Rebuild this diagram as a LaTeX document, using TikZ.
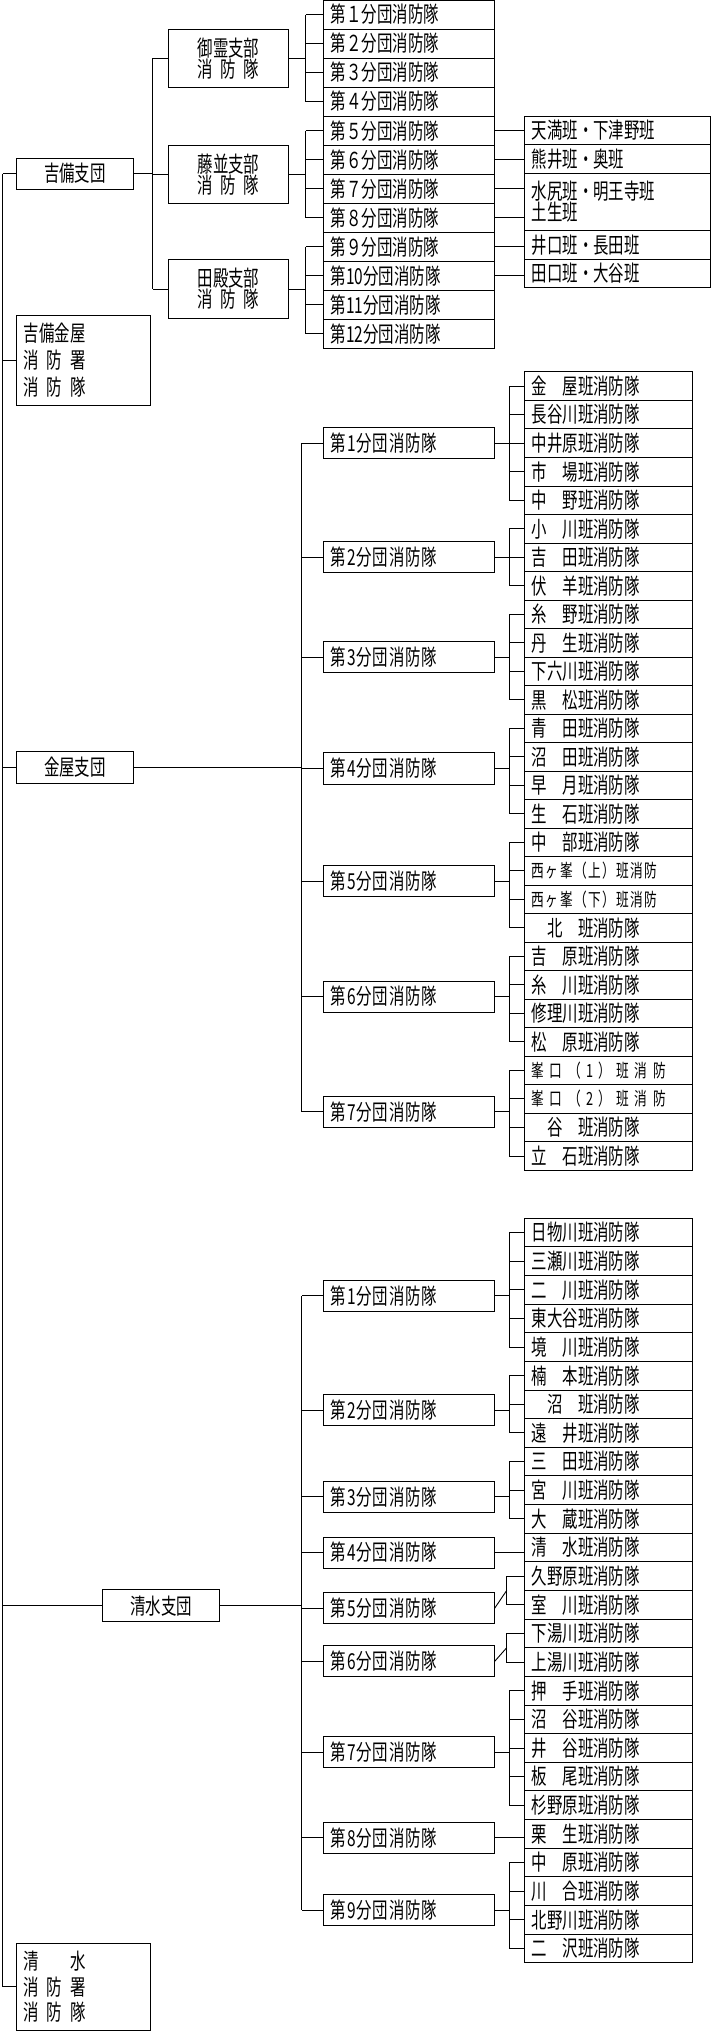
\documentclass[tikz,border=0pt]{standalone}
\usepackage{fontspec}
\setmainfont{Noto Sans CJK JP}[FakeStretch=0.7]
\usetikzlibrary{calc,positioning}
\tikzset{unit/.style={draw, line width=.7pt, anchor=west, inner xsep=6pt, inner ysep=0pt, text width=#1, align=left, minimum height=22pt, font=\fontsize{17}{19}\selectfont}}
\tikzset{branch/.style={unit=#1, align=center}}
\tikzset{link/.style={line width=.7pt}}
\newcommand{\spread}[1]{\makebox[47.6pt][s]{#1}}
\newcommand{\narrowfont}{\fontsize{14}{16}\selectfont\addfontfeature{LetterSpace=8}}

\begin{document}
\begin{tikzpicture}[x=1pt, y=-1pt]
\useasboundingbox (0,0) rectangle (549,1568);
% Nodes
\coordinate (spine) at (2,0);
\node (kibi) [branch=79, minimum height=24pt] at (12,134) {吉備支団};
\node (kibiSho) [unit=92, minimum height=69pt] at (12,278) {吉備金屋\\[2pt]\spread{消\hfill 防\hfill 署}\\[2pt]\spread{消\hfill 防\hfill 隊}};
\node (kanaya) [branch=79, minimum height=25pt] at (12,592) {金屋支団};
\node (shimizu) [branch=78, minimum height=25pt] at (79,1239) {清水支団};
\node (shimizuSho) [unit=92, minimum height=67pt] at (12,1533) {\spread{清\hfill 水}\\[1pt]\spread{消\hfill 防\hfill 署}\\[1pt]\spread{消\hfill 防\hfill 隊}};

\node (goryo) [branch=80, minimum height=45pt, inner ysep=0pt] at (130,45) {御霊支部\\[-3pt]\spread{消\hfill 防\hfill 隊}};
\node (fujinami) [branch=80, minimum height=45pt] at (130,134.5) {藤並支部\\[-3pt]\spread{消\hfill 防\hfill 隊}};
\node (tonoo) [branch=80, minimum height=45pt] at (130,223) {田殿支部\\[-3pt]\spread{消\hfill 防\hfill 隊}};

\foreach \t [count=\i] in {第１分団消防隊,第２分団消防隊,第３分団消防隊,第４分団消防隊,第５分団消防隊,第６分団消防隊,第７分団消防隊,第８分団消防隊,第９分団消防隊,第10分団消防隊,第11分団消防隊,第12分団消防隊}
  \node (kb\i) [unit=120, minimum height=22.4pt] at (249,{11.2+22.4*(\i-1)}) {\t};

\node (tenma) [unit=132] at (404,100.5) {天満班・下津野班};
\node (kumai) [unit=132] at (404,122.5) {熊井班・奥班};
\node (mizujiri) [unit=132, minimum height=44pt] at (404,155.5) {水尻班・明王寺班\\[-3pt]土生班};
\node (iguchi) [unit=132] at (404,189) {井口班・長田班};
\node (taguchi) [unit=132] at (404,211) {田口班・大谷班};

\foreach \t/\y [count=\i] in {第1分団消防隊/342,第2分団消防隊/430,第3分団消防隊/507,第4分団消防隊/593,第5分団消防隊/680,第6分団消防隊/769,第7分団消防隊/858}
  \node (kn\i) [unit=120, minimum height=24pt] at (249,\y) {\addfontfeature{LetterSpace=4}\t};
\foreach \t [count=\i from 0] in {金　屋班消防隊,長谷川班消防隊,中井原班消防隊,市　場班消防隊,中　野班消防隊,小　川班消防隊,吉　田班消防隊,伏　羊班消防隊,糸　野班消防隊,丹　生班消防隊,下六川班消防隊,黒　松班消防隊,青　田班消防隊,沼　田班消防隊,早　月班消防隊,生　石班消防隊,中　部班消防隊,{\narrowfont 西ヶ峯（上）班消防},{\narrowfont 西ヶ峯（下）班消防},　北　班消防隊,吉　原班消防隊,糸　川班消防隊,修理川班消防隊,松　原班消防隊,{\narrowfont\addfontfeature{LetterSpace=30}峯口（1）班消防},{\narrowfont\addfontfeature{LetterSpace=30}峯口（2）班消防},　谷　班消防隊,立　石班消防隊}
  \node (kns\i) [unit=118] at (404,{298+22*\i}) {\t};

\foreach \t/\y [count=\i] in {第1分団消防隊/1000,第2分団消防隊/1088,第3分団消防隊/1155,第4分団消防隊/1198,第5分団消防隊/1241,第6分団消防隊/1282,第7分団消防隊/1352,第8分団消防隊/1418,第9分団消防隊/1474}
  \node (sm\i) [unit=120, minimum height=24pt] at (249,\y) {\addfontfeature{LetterSpace=4}\t};
\foreach \t [count=\i from 0] in {日物川班消防隊,三瀬川班消防隊,二　川班消防隊,東大谷班消防隊,境　川班消防隊,楠　本班消防隊,　沼　班消防隊,遠　井班消防隊,三　田班消防隊,宮　川班消防隊,大　蔵班消防隊,清　水班消防隊,久野原班消防隊,室　川班消防隊,下湯川班消防隊,上湯川班消防隊,押　手班消防隊,沼　谷班消防隊,井　谷班消防隊,板　尾班消防隊,杉野原班消防隊,栗　生班消防隊,中　原班消防隊,川　合班消防隊,北野川班消防隊,二　沢班消防隊}
  \node (sms\i) [unit=118, minimum height=22.1pt] at (404,{951+22.1*\i}) {\t};

% Connectors
\begin{scope}[link]
\draw (kibi.west -| spine) -- (shimizuSho.west -| spine);
\foreach \n in {kibi,kibiSho,kanaya,shimizu,shimizuSho}
  \draw (\n.west) -- (\n.west -| spine);

\draw (kibi.east) -- ([xshift=-12pt]kibi.east -| goryo.west);
\draw ([xshift=-12pt]goryo.west) -- ([xshift=-12pt]tonoo.west);
\foreach \n in {goryo,fujinami,tonoo}
  \draw (\n.west) -- ++(-12,0);

\foreach \n/\a/\b in {goryo/1/4,fujinami/5/8,tonoo/9/12} {
  \draw (\n.east) -- ([xshift=-13pt]\n.east -| kb\a.west);
  \draw ([xshift=-13pt]kb\a.west) -- ([xshift=-13pt]kb\b.west);
  \foreach \j in {\a,...,\b}
    \draw (kb\j.west) -- ++(-13,0);
}
\foreach \a/\b in {5/tenma,6/kumai,7/mizujiri,8/mizujiri,9/iguchi,10/taguchi}
  \draw (kb\a.east) -- (kb\a.east -| \b.west);

\draw (kanaya.east) -- ([xshift=-16pt]kanaya.east -| kn1.west);
\draw ([xshift=-16pt]kn1.west) -- ([xshift=-16pt]kn7.west);
\foreach \j in {1,...,7}
  \draw (kn\j.west) -- ++(-16,0);
\foreach \g/\a/\b in {1/0/4,2/5/7,3/8/11,4/12/15,5/16/19,6/20/23,7/24/27} {
  \draw (kn\g.east) -- ([xshift=-11pt]kn\g.east -| kns\a.west);
  \draw ([xshift=-11pt]kns\a.west) -- ([xshift=-11pt]kns\b.west);
  \foreach \j in {\a,...,\b}
    \draw (kns\j.west) -- ++(-11,0);
}

\draw (shimizu.east) -- ([xshift=-16pt]shimizu.east -| sm1.west);
\draw ([xshift=-16pt]sm1.west) -- ([xshift=-16pt]sm9.west);
\foreach \j in {1,...,9}
  \draw (sm\j.west) -- ++(-16,0);
\foreach \g/\a/\b in {1/0/4,2/5/7,3/8/10,7/16/20,9/22/25} {
  \draw (sm\g.east) -- ([xshift=-11pt]sm\g.east -| sms\a.west);
  \draw ([xshift=-11pt]sms\a.west) -- ([xshift=-11pt]sms\b.west);
  \foreach \j in {\a,...,\b}
    \draw (sms\j.west) -- ++(-11,0);
}
\foreach \g/\a in {4/11,8/21}
  \draw (sm\g.east) -- (sm\g.east -| sms\a.west);
\foreach \g/\a/\b in {5/12/13,6/14/15} {
  \draw (sm\g.east) -- ([xshift=-13pt]$(sms\a.west)!.5!(sms\b.west)$);
  \draw (sms\a.west) -- ++(-13,0) |- (sms\b.west);
}
\end{scope}

\end{tikzpicture}
\end{document}
